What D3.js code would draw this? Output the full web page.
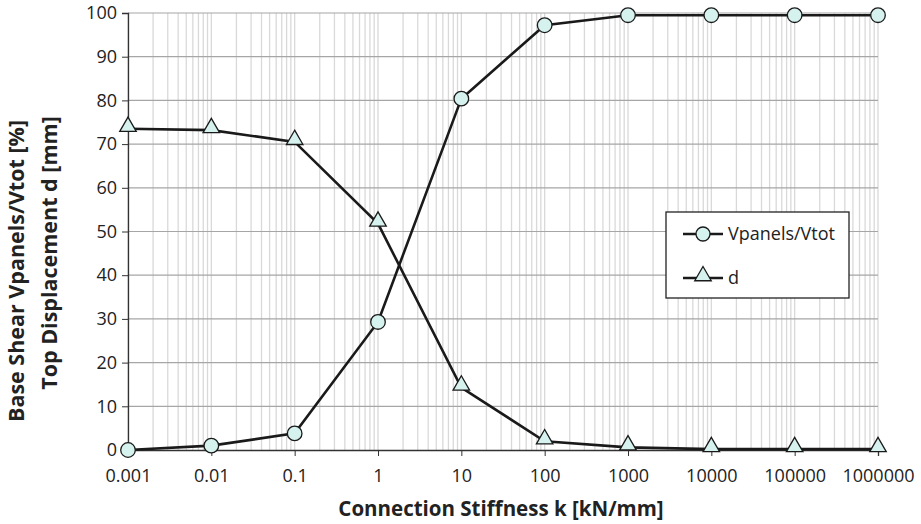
<!DOCTYPE html>
<html>
<head>
<meta charset="utf-8">
<script src="https://cdn.jsdelivr.net/npm/d3@7"></script>
<style>
  body { margin:0; background:#fff; }
  text { font-family: "Open Sans", "DejaVu Sans", sans-serif; fill:#222; }
</style>
</head>
<body>
<div id="chart"></div>
<script>
// data
var stiffness = [0.001, 0.01, 0.1, 1, 10, 100, 1000, 10000, 100000, 1000000];
var vpanels   = [0, 1, 3.8, 29.3, 80.4, 97.2, 99.5, 99.5, 99.5, 99.5];
var dispTop   = [73.5, 73.2, 70.5, 51.8, 14.3, 2.0, 0.6, 0.2, 0.2, 0.2];
var xTickLabels = ["0.001","0.01","0.1","1","10","100","1000","10000","100000","1000000"];
var yTicks = [0,10,20,30,40,50,60,70,80,90,100];
var seriesNames = ["Vpanels/Vtot", "d"];

var W = 921, H = 524;
var margin = {top: 13, right: 43, bottom: 74, left: 128};
var width  = W - margin.left - margin.right;
var height = H - margin.top - margin.bottom;

var svg = d3.select("#chart").append("svg")
  .attr("width", W).attr("height", H);
var g = svg.append("g")
  .attr("transform", "translate(" + margin.left + "," + margin.top + ")");

var x = d3.scaleLog().domain([0.001, 1000000]).range([0, width]);
var y = d3.scaleLinear().domain([0, 100]).range([height, 0]);

// minor vertical grid (2..9 in each decade plus decades)
var minor = [];
for (var e = -3; e < 6; e++) {
  for (var m = 1; m <= 9; m++) minor.push(m * Math.pow(10, e));
}
minor.push(1000000);
g.append("g").selectAll("line").data(minor).enter().append("line")
  .attr("x1", function(d){ return x(d); }).attr("x2", function(d){ return x(d); })
  .attr("y1", 0).attr("y2", height)
  .attr("stroke", "#d9d9d9").attr("stroke-width", 1.3);

// horizontal grid
g.append("g").selectAll("line").data(yTicks.slice(1)).enter().append("line")
  .attr("x1", 0).attr("x2", width)
  .attr("y1", function(d){ return y(d); }).attr("y2", function(d){ return y(d); })
  .attr("stroke", "#a6a6a6").attr("stroke-width", 1.2);

// axes
var yAxis = d3.axisLeft(y).tickValues(yTicks).tickSize(6).tickPadding(5);
var gy = g.append("g").call(yAxis);
gy.select(".domain").attr("stroke", "#333").attr("stroke-width", 1.3);
gy.selectAll(".tick line").attr("stroke", "#333");
gy.selectAll("text").style("font-size", "18px").attr("fill", "#222");

var xAxis = d3.axisBottom(x).tickValues(stiffness)
  .tickFormat(function(d, i){ return xTickLabels[i]; })
  .tickSize(6).tickPadding(13);
var gx = g.append("g").attr("transform", "translate(0," + height + ")").call(xAxis);
gx.select(".domain").attr("stroke", "#333").attr("stroke-width", 1.3);
gx.selectAll(".tick line").attr("stroke", "#333");
gx.selectAll("text").style("font-size", "18px").attr("fill", "#222");

// series
var markFill = "#d6f2ef";
var line = d3.line()
  .x(function(d){ return x(d[0]); })
  .y(function(d){ return y(d[1]); });

var v = d3.zip(stiffness, vpanels);
var dd = d3.zip(stiffness, dispTop);

g.append("path").datum(v).attr("d", line)
  .attr("fill", "none").attr("stroke", "#1a1a1a").attr("stroke-width", 2.6);
g.append("path").datum(dd).attr("d", line)
  .attr("fill", "none").attr("stroke", "#1a1a1a").attr("stroke-width", 2.6);

var tri = d3.symbol().type(d3.symbolTriangle).size(118);

g.append("g").selectAll("path").data(dd).enter().append("path")
  .attr("d", tri)
  .attr("transform", function(d){ return "translate(" + x(d[0]) + "," + (y(d[1]) - 2.2) + ")"; })
  .attr("fill", markFill).attr("stroke", "#1a1a1a").attr("stroke-width", 1.3);

g.append("g").selectAll("circle").data(v).enter().append("circle")
  .attr("cx", function(d){ return x(d[0]); })
  .attr("cy", function(d){ return y(d[1]); })
  .attr("r", 7.3)
  .attr("fill", markFill).attr("stroke", "#1a1a1a").attr("stroke-width", 1.3);

// legend
var leg = svg.append("g").attr("transform", "translate(666,212)");
leg.append("rect").attr("width", 183).attr("height", 86)
  .attr("fill", "#fff").attr("stroke", "#222").attr("stroke-width", 1.3);
seriesNames.forEach(function(name, i){
  var ly = 22 + i * 44;
  leg.append("line").attr("x1", 17).attr("x2", 57).attr("y1", ly).attr("y2", ly)
    .attr("stroke", "#1a1a1a").attr("stroke-width", 2.6);
  if (i == 0) {
    leg.append("circle").attr("cx", 37).attr("cy", ly).attr("r", 7)
      .attr("fill", markFill).attr("stroke", "#1a1a1a").attr("stroke-width", 1.3);
  } else {
    leg.append("path").attr("d", tri)
      .attr("transform", "translate(37," + (ly - 2) + ")")
      .attr("fill", markFill).attr("stroke", "#1a1a1a").attr("stroke-width", 1.3);
  }
  leg.append("text").attr("x", 62).attr("y", ly + 6)
    .style("font-size", "18px").text(name);
});

// axis titles
svg.append("text")
  .attr("x", 501).attr("y", 516)
  .attr("text-anchor", "middle")
  .style("font-size", "20.5px").style("font-weight", "bold")
  .text("Connection Stiffness k [kN/mm]");

svg.append("text")
  .attr("transform", "translate(24,271) rotate(-90)")
  .attr("text-anchor", "middle")
  .style("font-size", "21.5px").style("font-weight", "bold")
  .text("Base Shear Vpanels/Vtot [%]");
svg.append("text")
  .attr("transform", "translate(57,253) rotate(-90)")
  .attr("text-anchor", "middle")
  .style("font-size", "21.5px").style("font-weight", "bold")
  .text("Top Displacement d [mm]");
</script>
</body>
</html>
